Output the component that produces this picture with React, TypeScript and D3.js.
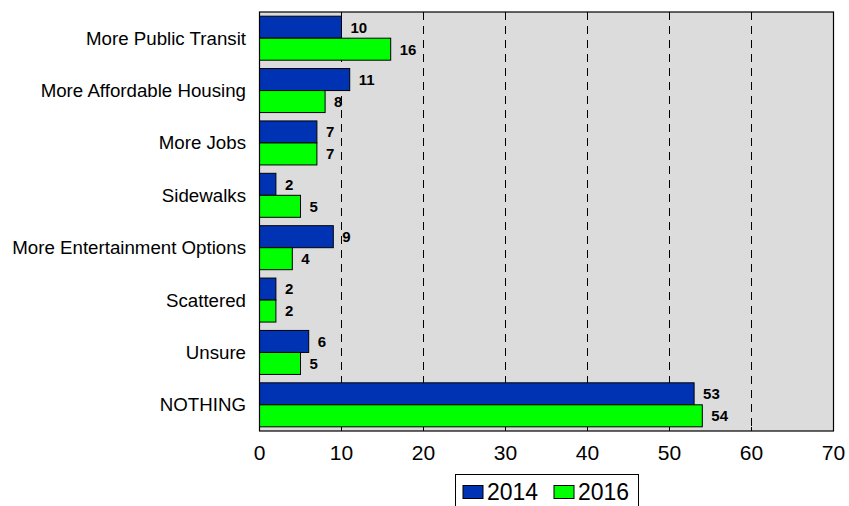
import React from "react";
import * as d3 from "d3";

const categories = [
  "More Public Transit",
  "More Affordable Housing",
  "More Jobs",
  "Sidewalks",
  "More Entertainment Options",
  "Scattered",
  "Unsure",
  "NOTHING",
];
const values2014 = [10, 11, 7, 2, 9, 2, 6, 53];
const values2016 = [16, 8, 7, 5, 4, 2, 5, 54];
const seriesNames = ["2014", "2016"];
const xTicks = [0, 10, 20, 30, 40, 50, 60, 70];

const W = 849;
const H = 506;
const left = 259.5;
const right = 833.5;
const top = 12;
const bottom = 431;
const colors = ["#0033b4", "#00ff00"];

export default function App() {
  const x = d3.scaleLinear().domain([0, 70]).range([left, right]);
  const y = d3.scaleBand<string>().domain(categories).range([top, bottom]).paddingInner(0.16).paddingOuter(0.08);
  const sub = d3.scaleBand<string>().domain(seriesNames).range([0, y.bandwidth()]);
  const series = [values2014, values2016];
  const font = "Arial, 'Liberation Sans', sans-serif";

  return (
    <svg width={W} height={H} style={{ position: "absolute", left: 0, top: 0 }} fontFamily={font}>
      <rect x={0} y={0} width={W} height={H} fill="#fff" />
      <rect x={left} y={top} width={right - left} height={bottom - top} fill="#dcdcdc" />
      {xTicks.slice(1, -1).map((t) => (
        <line key={t} x1={x(t)} x2={x(t)} y1={top} y2={bottom} stroke="#000" strokeWidth={1} strokeDasharray="8,6" />
      ))}
      {xTicks.map((t) => (
        <line key={"tk" + t} x1={x(t)} x2={x(t)} y1={bottom} y2={bottom - 4} stroke="#000" strokeWidth={1} />
      ))}
      {categories.map((c, i) => (
        <g key={c}>
          {series.map((vals, s) => {
            const by = (y(c) as number) + (sub(seriesNames[s]) as number);
            return (
              <g key={s}>
                <rect
                  x={x(0)}
                  y={by}
                  width={x(vals[i]) - x(0)}
                  height={sub.bandwidth()}
                  fill={colors[s]}
                  stroke="#000"
                  strokeWidth={1}
                />
                <text
                  x={x(vals[i]) + 9}
                  y={by + sub.bandwidth() / 2}
                  dy="0.36em"
                  fontSize={15}
                  fontWeight="bold"
                >
                  {vals[i]}
                </text>
              </g>
            );
          })}
          <text
            x={246}
            y={(y(c) as number) + y.bandwidth() / 2}
            dy="0.35em"
            textAnchor="end"
            fontSize={18.7}
          >
            {c}
          </text>
        </g>
      ))}
      <rect x={left} y={top} width={right - left} height={bottom - top} fill="none" stroke="#000" strokeWidth={1.2} />
      {xTicks.map((t) => (
        <text key={"lb" + t} x={x(t)} y={459.5} textAnchor="middle" fontSize={21}>
          {t}
        </text>
      ))}
      <rect x={455.5} y={474.5} width={183} height={40} fill="#fff" stroke="#000" strokeWidth={1} />
      {seriesNames.map((n, s) => {
        const lx = s === 0 ? 463 : 554;
        return (
          <g key={n}>
            <rect x={lx} y={485.5} width={20} height={13} fill={colors[s]} stroke="#000" strokeWidth={1} />
            <text x={lx + 24} y={500} fontSize={23}>
              {n}
            </text>
          </g>
        );
      })}
    </svg>
  );
}
